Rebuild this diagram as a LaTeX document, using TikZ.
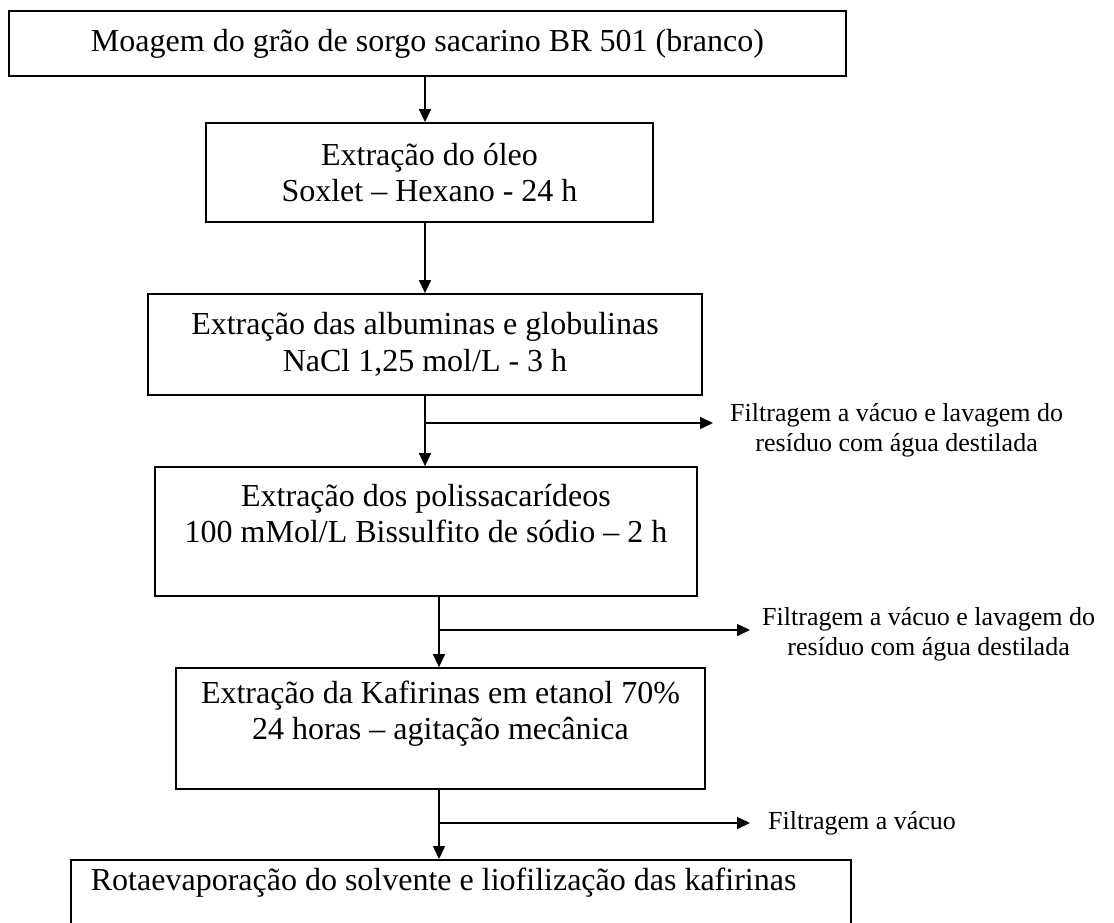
\documentclass[tikz,border=0pt]{standalone}
\usepackage{fontspec}
\setmainfont{Liberation Serif}
\usetikzlibrary{arrows.meta}
\begin{document}
\begin{tikzpicture}[x=1pt,y=-1pt,
  box/.style={draw, line width=1.8pt, align=center, inner sep=0pt, font=\fontsize{32}{36.5}\selectfont},
  side/.style={align=center, inner sep=0pt, anchor=west, font=\fontsize{26}{30}\selectfont},
  flow/.style={line width=1.5pt, -{Triangle[length=13pt,width=12pt]}}]
\useasboundingbox (0,0) rectangle (1114,922);
\node[box, minimum width=837pt, minimum height=65pt] (b1) at (427.5,43.5) {Moagem do grão de sorgo sacarino BR 501 (branco)};
\node[box, minimum width=447pt, minimum height=99pt] (b2) at (429.5,172.5) {Extração do óleo\\Soxlet – Hexano - 24 h};
\node[box, minimum width=554pt, minimum height=101pt] (b3) at (425,344.5) {Extração das albuminas e globulinas\\NaCl 1,25 mol/L - 3 h};
\node[box, minimum width=542pt, minimum height=129pt] (b4) at (426,531.5) {Extração dos polissacarídeos\\100 mMol/L Bissulfito de sódio – 2 h\\\mbox{}};
\node[box, minimum width=529pt, minimum height=121pt] (b5) at (440.5,728.5) {Extração da Kafirinas em etanol 70\%\\24 horas – agitação mecânica\\\mbox{}};
\node[box, anchor=north west, align=flush left, text width=740pt, inner xsep=20pt, inner ysep=0pt, text height=31pt, text depth=100pt] (b6) at (70,859) {Rotaevaporação do solvente e liofilização das kafirinas};

\coordinate (t1) at (425,0);
\coordinate (t2) at (439,0);
\coordinate (j1) at (425,423);
\coordinate (j2) at (439,630);
\coordinate (j3) at (439,823);
\coordinate (a1) at (713,423);
\coordinate (a2) at (750,630);
\coordinate (a3) at (750,823);

\node[side] (s1) at (730,430) {Filtragem a vácuo e lavagem do\\resíduo com água destilada};
\node[side] (s2) at (762,634) {Filtragem a vácuo e lavagem do\\resíduo com água destilada};
\node[side] (s3) at (768,823) {Filtragem a vácuo};

\draw[flow] (b1.south -| t1) -- (b2.north -| t1);
\draw[flow] (b2.south -| t1) -- (b3.north -| t1);
\draw[flow] (b3.south -| t1) -- (b4.north -| t1);
\draw[flow] (b4.south -| t2) -- (b5.north -| t2);
\draw[flow] (b5.south -| t2) -- (b6.north -| t2);
\draw[flow] (j1) -- (a1);
\draw[flow] (j2) -- (a2);
\draw[flow] (j3) -- (a3);
\end{tikzpicture}
\end{document}
